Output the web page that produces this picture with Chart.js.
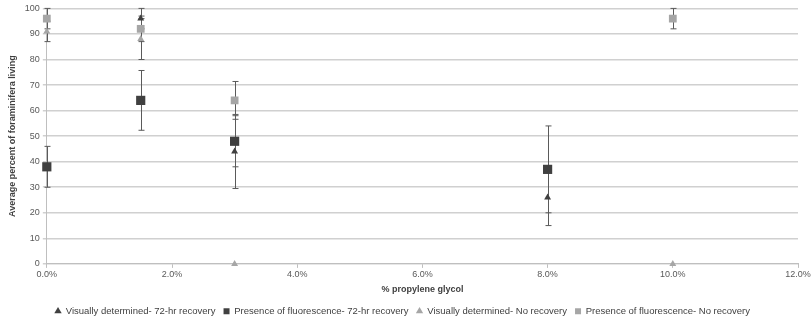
<!DOCTYPE html>
<html>
<head>
<meta charset="utf-8">
<script src="https://cdn.jsdelivr.net/npm/chart.js@4.4.0/dist/chart.umd.min.js"></script>
<style>
  html, body { margin: 0; padding: 0; background: #fff; }
  #wrap { width: 812px; height: 323px; }
</style>
</head>
<body>
<div id="wrap"><canvas id="chart" width="812" height="323"></canvas></div>
<script>
// % propylene glycol
const glycolPct = [0, 1.5, 3, 8, 10];

// series means and +/- error
const visual72 = [null, 96, 44, 26, null];
const visual72Err = [null, 4, 14.5, 11, null];
const fluor72 = [38, 64, 48, 37, null];
const fluor72Err = [8, 11.7, 10, 17, null];
const visualNo = [91, 88, 0, null, 0];
const visualNoErr = [4, 8, 0, null, 0];
const fluorNo = [96, 92, 64, null, 96];
const fluorNoErr = [4, 5, 7.4, null, 4];

const xTicks = [0, 2, 4, 6, 8, 10, 12];
const yTicks = [0, 10, 20, 30, 40, 50, 60, 70, 80, 90, 100];

const DARK = '#404040';
const LIGHT = '#a6a6a6';

function toPoints(vals, errs) {
    const pts = [];
    vals.forEach((v, i) => {
        if (v === null) return;
        pts.push({ x: glycolPct[i], y: v, err: errs[i] });
    });
    return pts;
}

// draws the +/- error bars under the markers
const errorBars = {
    id: 'errorBars',
    beforeDatasetsDraw(chart) {
        const ctx = chart.ctx;
        const xs = chart.scales.x, ys = chart.scales.y;
        ctx.save();
        ctx.strokeStyle = '#5a5a5a';
        ctx.lineWidth = 1;
        chart.data.datasets.forEach(ds => {
            ds.data.forEach(p => {
                if (!p.err) return;
                const px = Math.round(xs.getPixelForValue(p.x)) + 0.5;
                const top = ys.getPixelForValue(Math.min(100, p.y + p.err));
                const bot = ys.getPixelForValue(p.y - p.err);
                ctx.beginPath();
                ctx.moveTo(px, top); ctx.lineTo(px, bot);
                ctx.moveTo(px - 3, top); ctx.lineTo(px + 3, top);
                ctx.moveTo(px - 3, bot); ctx.lineTo(px + 3, bot);
                ctx.stroke();
            });
        });
        ctx.restore();
    }
};

const FONT = 'Liberation Sans Narrow, Liberation Sans, sans-serif';
const tickFont = { family: FONT, size: 9 };

new Chart(document.getElementById('chart'), {
    type: 'scatter',
    data: {
        datasets: [
            {
                label: 'Visually determined- 72-hr recovery',
                data: toPoints(visual72, visual72Err),
                pointStyle: 'triangle', radius: 4,
                backgroundColor: DARK, borderColor: DARK, borderWidth: 0
            },
            {
                label: 'Presence of fluorescence- 72-hr recovery',
                data: toPoints(fluor72, fluor72Err),
                pointStyle: 'rect', radius: 6.5,
                backgroundColor: DARK, borderColor: DARK, borderWidth: 0
            },
            {
                label: 'Visually determined- No recovery',
                data: toPoints(visualNo, visualNoErr),
                pointStyle: 'triangle', radius: 4,
                backgroundColor: LIGHT, borderColor: LIGHT, borderWidth: 0
            },
            {
                label: 'Presence of fluorescence- No recovery',
                data: toPoints(fluorNo, fluorNoErr),
                pointStyle: 'rect', radius: 5.5,
                backgroundColor: LIGHT, borderColor: LIGHT, borderWidth: 0
            }
        ]
    },
    options: {
        responsive: false,
        animation: false,
        clip: false,
        layout: { padding: { left: 7, right: 14, top: 7, bottom: -3 } },
        plugins: {
            tooltip: { enabled: false },
            legend: {
                position: 'bottom',
                labels: {
                    usePointStyle: true,
                    boxWidth: 6, boxHeight: 6,
                    padding: 8,
                    color: '#404040',
                    font: { family: FONT, size: 9.5 }
                }
            }
        },
        scales: {
            x: {
                type: 'linear',
                min: 0, max: 12,
                afterBuildTicks: axis => { axis.ticks = xTicks.map(v => ({ value: v })); },
                ticks: {
                    color: '#595959',
                    font: tickFont,
                    padding: 1,
                    maxRotation: 0,
                    callback: v => v.toFixed(1) + '%'
                },
                grid: { drawOnChartArea: false, tickLength: 4, color: '#bfbfbf' },
                border: { color: '#bfbfbf' },
                title: {
                    display: true,
                    text: '% propylene glycol',
                    color: '#404040',
                    font: { family: FONT, size: 9, weight: 'bold' },
                    padding: { top: 3, bottom: 4 }
                }
            },
            y: {
                min: 0, max: 100,
                afterBuildTicks: axis => { axis.ticks = yTicks.map(v => ({ value: v })); },
                ticks: { color: '#595959', font: tickFont, padding: 3 },
                grid: { color: '#d0d0d0', lineWidth: 1.5, tickLength: 4 },
                border: { color: '#bfbfbf' },
                title: {
                    display: true,
                    text: 'Average percent of foraminifera living',
                    color: '#404040',
                    font: { family: FONT, size: 9, weight: 'bold' },
                    padding: { top: 0, bottom: 4 }
                }
            }
        }
    },
    plugins: [errorBars]
});
</script>
</body>
</html>
